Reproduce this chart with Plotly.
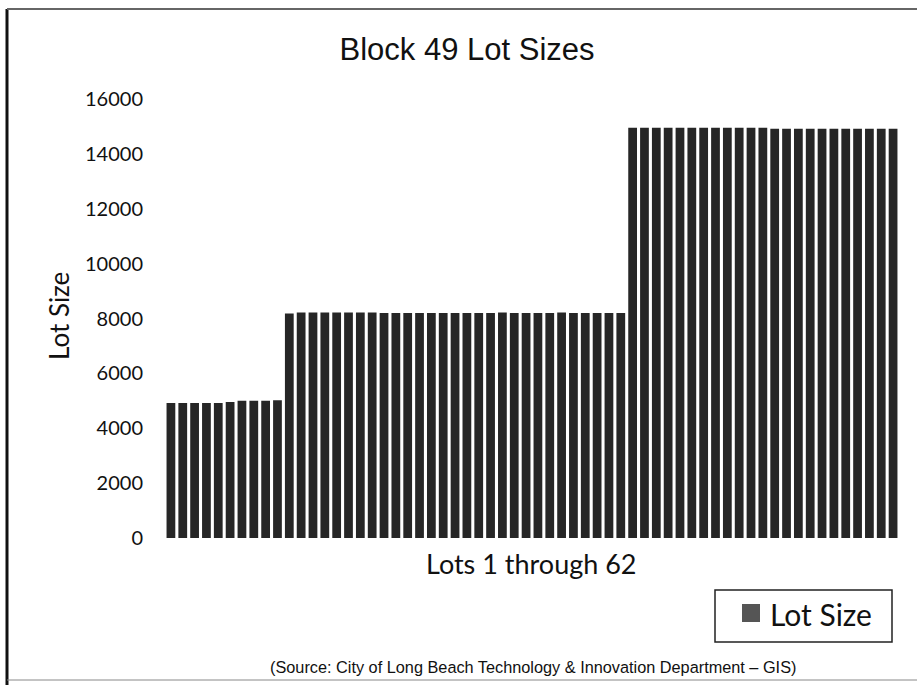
import plotly.graph_objects as go

lots = list(range(1, 63))
lot_sizes = [
    4920, 4920, 4920, 4920, 4920, 4960, 5000, 5000, 5000, 5020,
    8180, 8220, 8220, 8220, 8220, 8220, 8220, 8220, 8200, 8200,
    8200, 8200, 8200, 8200, 8200, 8200, 8200, 8200, 8220, 8200,
    8200, 8200, 8200, 8220, 8200, 8200, 8200, 8200, 8200,
    14950, 14950, 14950, 14950, 14950, 14950, 14950, 14950, 14950, 14950,
    14950, 14950, 14920, 14920, 14920, 14920, 14920, 14920, 14920, 14920,
    14920, 14920, 14920,
]
y_ticks = [0, 2000, 4000, 6000, 8000, 10000, 12000, 14000, 16000]
y_tick_labels = ["0", "2000", "4000", "6000", "8000", "10000", "12000", "14000", "16000"]
series_name = "Lot Size"

W, H = 917, 685
L, R, T, B = 165, 18, 99, 147
pw, ph = W - L - R, H - T - B

def px(x):
    return (x - L) / pw

def py(y):
    return (H - B - y) / ph

calibri = "Lato, 'Open Sans', sans-serif"
arial = "'Liberation Sans', Arial, sans-serif"
bar_color = "#262626"

fig = go.Figure()
fig.add_trace(go.Bar(
    x=lots, y=lot_sizes, name=series_name,
    marker=dict(color=bar_color, line=dict(width=0)),
    showlegend=False,
))

fig.update_layout(
    width=W, height=H,
    margin=dict(l=L, r=R, t=T, b=B),
    paper_bgcolor="white", plot_bgcolor="white",
    bargap=0.26,
    showlegend=False,
    title=dict(text="Block 49 Lot Sizes", x=467 / W, xref="container", xanchor="center",
               y=1 - 49 / H, yref="container", yanchor="middle",
               font=dict(family=arial, size=31, color="#111")),
    xaxis=dict(range=[0.5, 62.5], showticklabels=False, showgrid=False, zeroline=False,
               showline=False, ticks=""),
    yaxis=dict(range=[0, 16000], tickvals=y_ticks, ticktext=y_tick_labels,
               showgrid=False, zeroline=False,
               showline=False, ticks="", ticklabelstandoff=21,
               tickfont=dict(family=calibri, size=20, color="#111")),
    annotations=[
        dict(text="Lot Size", x=px(59), y=py(316), xref="paper", yref="paper",
             textangle=-90, showarrow=False, xanchor="center", yanchor="middle",
             font=dict(family=calibri, size=26, color="#111")),
        dict(text="Lots 1 through 62", x=px(531), y=py(563), xref="paper", yref="paper",
             showarrow=False, xanchor="center", yanchor="middle",
             font=dict(family=calibri, size=27, color="#111")),
        dict(text="(Source: City of Long Beach Technology &amp; Innovation Department \u2013 GIS)",
             x=px(533), y=py(667), xref="paper", yref="paper",
             showarrow=False, xanchor="center", yanchor="middle",
             font=dict(family=arial, size=16.3, color="#111")),
        # legend text
        dict(text=series_name, x=px(768), y=py(614), xref="paper", yref="paper",
             showarrow=False, xanchor="left", yanchor="middle",
             font=dict(family=calibri, size=30, color="#111")),
    ],
    shapes=[
        dict(type="line", xref="paper", yref="paper", x0=px(7), x1=px(7), y0=py(9), y1=py(685),
             line=dict(color="#111", width=3)),
        dict(type="line", xref="paper", yref="paper", x0=px(7), x1=px(917), y0=py(9), y1=py(9),
             line=dict(color="#666", width=2)),
        dict(type="line", xref="paper", yref="paper", x0=px(7), x1=px(917), y0=py(680), y1=py(680),
             line=dict(color="#888", width=1)),
        # legend box and swatch
        dict(type="rect", xref="paper", yref="paper", x0=px(715), x1=px(892), y0=py(590), y1=py(642),
             line=dict(color="#222", width=1.5), fillcolor="white"),
        dict(type="rect", xref="paper", yref="paper", x0=px(742), x1=px(760), y0=py(604), y1=py(622),
             line=dict(width=0), fillcolor="#555"),
    ],
)

fig.write_html("out.html", config={"displayModeBar": False},
               post_script="document.body.style.margin='0';document.body.style.overflow='hidden';")
